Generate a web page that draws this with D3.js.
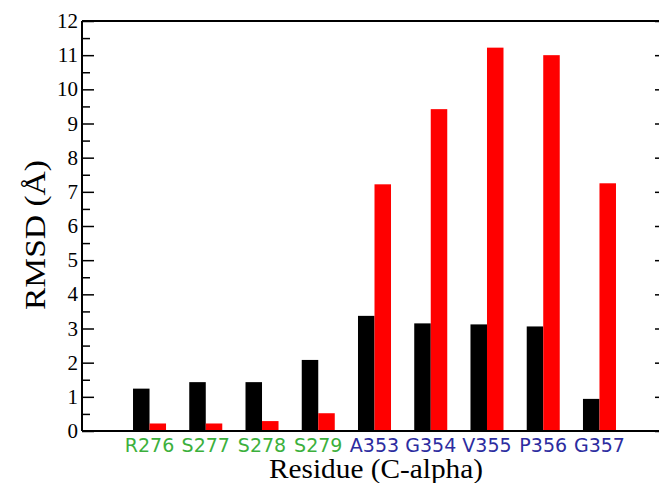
<!DOCTYPE html>
<html><head><meta charset="utf-8">
<script src="https://cdn.jsdelivr.net/npm/d3@7"></script>
<style>body{margin:0;background:#fff;overflow:hidden}svg{display:block}</style>
</head><body>
<svg id="c" width="659" height="483"></svg>
<script>
const residues = ["R276","S277","S278","S279","A353","G354","V355","P356","G357"];
const residueGroup = ["green","green","green","green","blue","blue","blue","blue","blue"];
const seriesBlack = [1.24,1.43,1.43,2.08,3.37,3.15,3.12,3.06,0.94];
const seriesRed = [0.22,0.22,0.29,0.52,7.22,9.42,11.22,11.0,7.25];
const yTicks = [0,1,2,3,4,5,6,7,8,9,10,11,12];
const yMinorTicks = [0.5,1.5,2.5,3.5,4.5,5.5,6.5,7.5,8.5,9.5,10.5,11.5];

const svg = d3.select("#c");
const L=82, R=667, T=21, B=431;
const x = d3.scaleBand().domain(residues).range([L,R]).paddingInner(0.413).paddingOuter(0.907);
const y = d3.scaleLinear().domain([0,12]).range([B,T]);
const half = x.bandwidth()/2;

// bars
svg.append("g").selectAll("rect").data(residues).join("rect")
  .attr("x", d=>x(d)).attr("width", half)
  .attr("y", (d,i)=>y(seriesBlack[i])).attr("height",(d,i)=>B-y(seriesBlack[i]))
  .attr("fill","#000");
svg.append("g").selectAll("rect").data(residues).join("rect")
  .attr("x", d=>x(d)+half).attr("width", half)
  .attr("y", (d,i)=>y(seriesRed[i])).attr("height",(d,i)=>B-y(seriesRed[i]))
  .attr("fill","#ff0000");

function ticks(pos, axisFn) {
  const g1 = svg.append("g").attr("transform",`translate(${pos},0)`)
    .call(axisFn(y).tickValues(yTicks).tickSize(12).tickFormat(""));
  g1.select(".domain").remove();
  g1.selectAll("line").attr("stroke","#000").attr("stroke-width",1.5);
  const g2 = svg.append("g").attr("transform",`translate(${pos},0)`)
    .call(axisFn(y).tickValues(yMinorTicks).tickSize(8).tickFormat(""));
  g2.select(".domain").remove();
  g2.selectAll("line").attr("stroke","#000").attr("stroke-width",1.5);
}
ticks(L, d3.axisRight);
ticks(R, d3.axisLeft);

// y labels
svg.append("g").selectAll("text").data(yTicks).join("text")
  .attr("x", L-4).attr("y", d=>y(d)+7).attr("text-anchor","end")
  .attr("font-family","Liberation Serif, Times New Roman, serif").attr("font-size",21)
  .attr("fill","#000").text(d=>d);

// frame (right side lies outside the visible area)
const frame = svg.append("g").attr("stroke","#000").attr("stroke-width",2);
frame.append("line").attr("x1",L).attr("x2",R).attr("y1",T).attr("y2",T);
frame.append("line").attr("x1",L).attr("x2",R).attr("y1",B).attr("y2",B);
frame.append("line").attr("x1",L).attr("x2",L).attr("y1",T).attr("y2",B);

// x labels
svg.append("g").selectAll("text").data(residues).join("text")
  .attr("x", d=>x(d)+half).attr("y", 452).attr("text-anchor","middle")
  .attr("font-family","DejaVu Sans, sans-serif").attr("font-size",19)
  .attr("fill",(d,i)=>residueGroup[i]==="green" ? "#3cb03c" : "#2c2ca0").text(d=>d);

// axis titles
svg.append("text").attr("x",376).attr("y",478).attr("text-anchor","middle")
  .attr("font-family","Liberation Serif, Times New Roman, serif").attr("font-size",27)
  .attr("textLength",214).attr("lengthAdjust","spacingAndGlyphs")
  .attr("fill","#000").text("Residue (C-alpha)");
svg.append("text").attr("transform","translate(45,235) rotate(-90)").attr("text-anchor","middle")
  .attr("font-family","Liberation Serif, Times New Roman, serif").attr("font-size",30)
  .attr("textLength",150).attr("lengthAdjust","spacingAndGlyphs")
  .attr("fill","#000").text("RMSD (Å)");
</script>
</body></html>
